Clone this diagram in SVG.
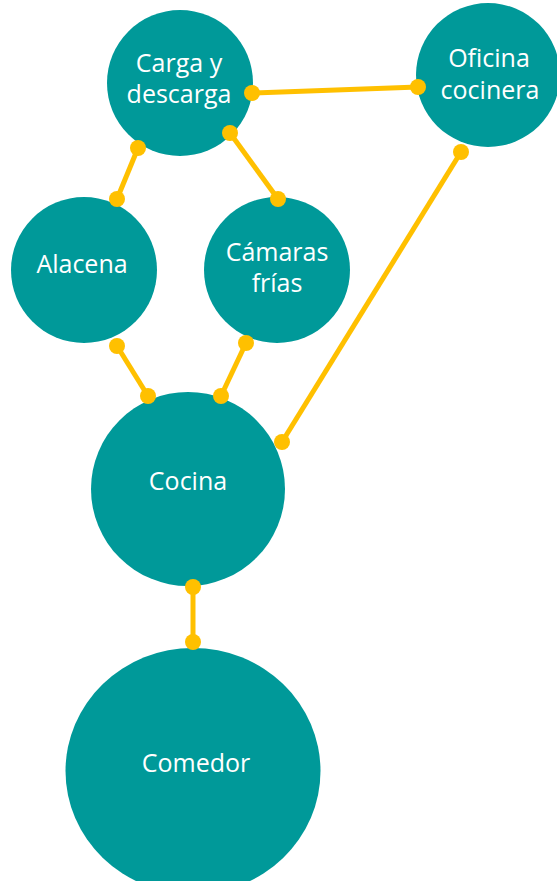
<svg xmlns="http://www.w3.org/2000/svg" width="557" height="881" viewBox="0 0 557 881">
<style>
.node{fill:#009999}
.lbl{fill:#ffffff;font-family:"Open Sans","Noto Sans",sans-serif;font-size:25px;text-anchor:middle}
.con line{stroke:#FFC000;stroke-width:5}
.con circle{fill:#FFC000}
</style>
<rect width="557" height="881" fill="#ffffff"/>
<g id="carga"><circle class="node" cx="180" cy="83" r="73"/><text class="lbl" x="179" y="72">Carga y</text><text class="lbl" x="179" y="103">descarga</text></g>
<g id="oficina"><circle class="node" cx="488" cy="75" r="72"/><text class="lbl" x="489" y="67">Oficina</text><text class="lbl" x="490" y="99">cocinera</text></g>
<g id="alacena"><circle class="node" cx="84" cy="270" r="73"/><text class="lbl" x="82" y="273">Alacena</text></g>
<g id="camaras"><circle class="node" cx="277" cy="270" r="73"/><text class="lbl" x="277" y="261">Cámaras</text><text class="lbl" x="277" y="292">frías</text></g>
<g id="cocina"><circle class="node" cx="188" cy="489" r="97"/><text class="lbl" x="188" y="490">Cocina</text></g>
<g id="comedor"><ellipse class="node" cx="193" cy="771" rx="127.5" ry="123"/><text class="lbl" x="196" y="772">Comedor</text></g>
<g id="connectors" class="con">
<line x1="252" y1="93" x2="418" y2="87"/><circle cx="252" cy="93" r="8"/><circle cx="418" cy="87" r="8"/>
<line x1="138" y1="148" x2="117" y2="199"/><circle cx="138" cy="148" r="8"/><circle cx="117" cy="199" r="8"/>
<line x1="230" y1="133" x2="278" y2="199"/><circle cx="230" cy="133" r="8"/><circle cx="278" cy="199" r="8"/>
<line x1="117" y1="346" x2="148" y2="396"/><circle cx="117" cy="346" r="8"/><circle cx="148" cy="396" r="8"/>
<line x1="246" y1="343" x2="221" y2="396"/><circle cx="246" cy="343" r="8"/><circle cx="221" cy="396" r="8"/>
<line x1="461" y1="152" x2="282" y2="442"/><circle cx="461" cy="152" r="8"/><circle cx="282" cy="442" r="8"/>
<line x1="193" y1="587" x2="193" y2="642"/><circle cx="193" cy="587" r="8"/><circle cx="193" cy="642" r="8"/>
</g>
</svg>
